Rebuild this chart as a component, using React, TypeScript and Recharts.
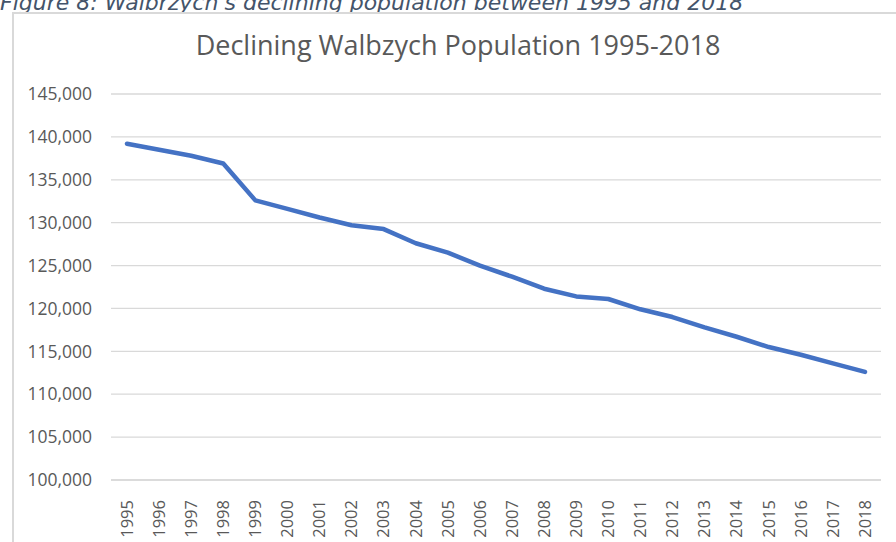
import React from 'react';
import { LineChart, Line, XAxis, YAxis, CartesianGrid } from 'recharts';

const years = [
  '1995', '1996', '1997', '1998', '1999', '2000', '2001', '2002', '2003', '2004', '2005', '2006',
  '2007', '2008', '2009', '2010', '2011', '2012', '2013', '2014', '2015', '2016', '2017', '2018',
];

const population = [
  139200, 138500, 137800, 136900, 132600, 131600, 130600, 129700, 129250, 127600, 126500, 125000,
  123700, 122300, 121400, 121100, 119900, 119000, 117800, 116700, 115500, 114600, 113600, 112600,
];

const yTicks = [100000, 105000, 110000, 115000, 120000, 125000, 130000, 135000, 140000, 145000];

const data = years.map((year, i) => ({ year, population: population[i] }));

const font = '"Open Sans", sans-serif';

const YearTick = (props: any) => {
  const { x, y, payload } = props;
  return (
    <g transform={`translate(${x},${y})`}>
      <text
        transform="rotate(-90)"
        x={-12}
        dy="0.35em"
        textAnchor="end"
        fill="#595959"
        fontSize={16.5}
        fontFamily={font}
      >
        {payload.value}
      </text>
    </g>
  );
};

export default function App() {
  return (
    <div style={{ position: 'absolute', left: 0, top: 0, width: 896, height: 542, overflow: 'hidden', background: '#fff' }}>
      <div
        style={{
          position: 'absolute',
          left: 0,
          top: -9,
          fontFamily: '"DejaVu Sans", sans-serif',
          fontStyle: 'italic',
          fontSize: 22,
          color: '#44546A',
          whiteSpace: 'nowrap',
          lineHeight: '24px',
        }}
      >
        Figure 8: Walbrzych's declining population between 1995 and 2018
      </div>
      <div
        style={{
          position: 'absolute',
          left: 12,
          top: 12,
          width: 900,
          height: 560,
          borderLeft: '2px solid #d9d9d9',
          borderTop: '2px solid #d9d9d9',
        }}
      />
      <div
        style={{
          position: 'absolute',
          left: 0,
          width: 916,
          top: 29,
          textAlign: 'center',
          fontFamily: font,
          fontSize: 27,
          color: '#595959',
          lineHeight: '32px',
          whiteSpace: 'nowrap',
        }}
      >
        Declining Walbzych Population 1995-2018
      </div>
      <div style={{ position: 'absolute', left: 0, top: 0 }}>
        <LineChart width={896} height={542} data={data} margin={{ top: 94, right: 15, bottom: 0, left: 0 }}>
          <CartesianGrid vertical={false} stroke="#d9d9d9" strokeWidth={1.3} />
          <XAxis
            dataKey="year"
            interval={0}
            padding={{ left: 16, right: 16 }}
            height={62}
            tickLine={false}
            axisLine={{ stroke: '#d9d9d9', strokeWidth: 1.3 }}
            tick={<YearTick />}
          />
          <YAxis
            width={111}
            domain={[100000, 145000]}
            ticks={yTicks}
            tickLine={false}
            axisLine={false}
            tickSize={0}
            tickMargin={19}
            tickFormatter={(v: number) => v.toLocaleString('en-US')}
            tick={{ fill: '#595959', fontSize: 17.5, fontFamily: font }}
          />
          <Line
            type="linear"
            dataKey="population"
            stroke="#4472C4"
            strokeWidth={4.5}
            strokeLinecap="round"
            strokeLinejoin="round"
            dot={false}
            isAnimationActive={false}
          />
        </LineChart>
      </div>
    </div>
  );
}
